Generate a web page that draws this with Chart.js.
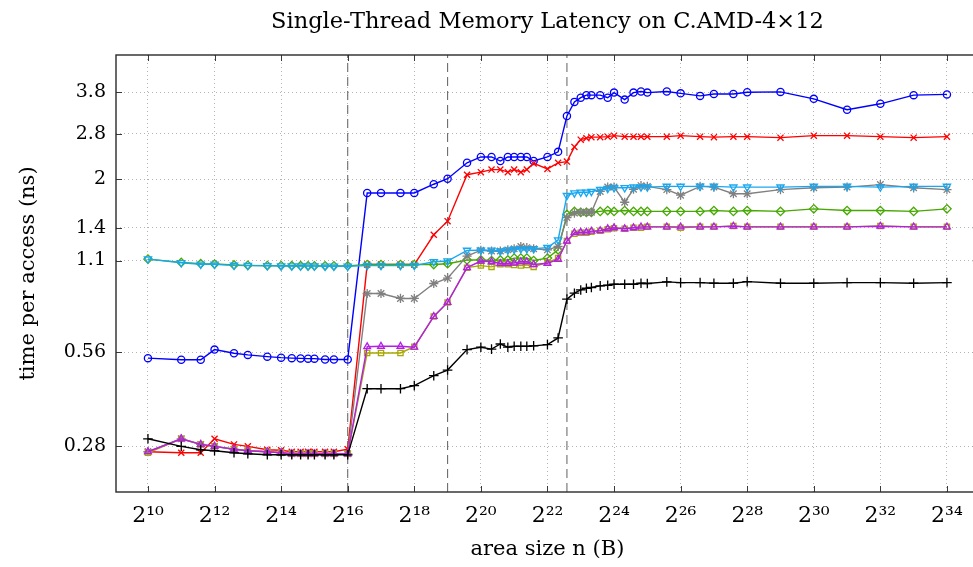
<!DOCTYPE html>
<html>
<head>
<meta charset="utf-8">
<script src="https://cdn.jsdelivr.net/npm/chart.js@4"></script>
<style>
html, body { margin: 0; padding: 0; overflow: hidden; background: #fff; }
#wrap { width: 985px; height: 567px; }
</style>
</head>
<body>
<div id="wrap"><canvas id="c" width="985" height="567"></canvas></div>
<script>
// x positions: log2 of the area size n (bytes)
const sizesLog2 = [10, 11, 11.585, 12, 12.585, 13, 13.585, 14, 14.32, 14.585, 14.81, 15, 15.32, 15.585, 16,
  16.585, 17, 17.585, 18, 18.585, 19, 19.585, 20,
  20.32, 20.585, 20.81, 21, 21.2, 21.38, 21.585,
  22, 22.32, 22.585,
  22.81, 23, 23.17, 23.32, 23.585, 23.81, 24,
  24.32, 24.585, 24.81, 25,
  25.585, 26, 26.585, 27, 27.585, 28,
  29, 30, 31, 32, 33, 34];

// time per access (ns) for each series
const blueCircle = [0.536, 0.530, 0.530, 0.571, 0.556, 0.549, 0.542, 0.538, 0.536, 0.535, 0.534, 0.534, 0.531, 0.531, 0.531,
  1.81, 1.81, 1.81, 1.81, 1.93, 2.01, 2.26, 2.36,
  2.36, 2.29, 2.36, 2.36, 2.36, 2.36, 2.29,
  2.36, 2.45, 3.19,
  3.54, 3.65, 3.72, 3.72, 3.72, 3.65, 3.79,
  3.60, 3.79, 3.82, 3.79,
  3.82, 3.77, 3.70, 3.75, 3.75, 3.80,
  3.81, 3.62, 3.34, 3.49, 3.72, 3.74];

const redCross = [0.269, 0.267, 0.267, 0.296, 0.284, 0.280, 0.273, 0.272, 0.269, 0.269, 0.269, 0.269, 0.269, 0.269, 0.274,
  1.068, 1.068, 1.068, 1.068, 1.33, 1.47, 2.07, 2.11,
  2.15, 2.15, 2.11, 2.15, 2.11, 2.15, 2.25,
  2.16, 2.26, 2.28,
  2.54, 2.68, 2.71, 2.73, 2.73, 2.74, 2.76,
  2.74, 2.74, 2.74, 2.74,
  2.74, 2.76, 2.74, 2.73, 2.74, 2.74,
  2.72, 2.76, 2.76, 2.74, 2.72, 2.74];

const cyanTriangleDown = [1.112, 1.082, 1.071, 1.070, 1.062, 1.060, 1.058, 1.057, 1.057, 1.056, 1.056, 1.056, 1.055, 1.055, 1.055,
  1.060, 1.060, 1.060, 1.060, 1.090, 1.096, 1.186, 1.187,
  1.187, 1.180, 1.190, 1.195, 1.200, 1.200, 1.200,
  1.21, 1.28, 1.775,
  1.81, 1.82, 1.82, 1.83, 1.855, 1.87, 1.88,
  1.88, 1.89, 1.89, 1.89,
  1.90, 1.90, 1.90, 1.90, 1.89, 1.89,
  1.89, 1.90, 1.90, 1.89, 1.90, 1.90];

const grayStar = [0.269, 0.296, 0.284, 0.280, 0.274, 0.271, 0.269, 0.267, 0.265, 0.265, 0.265, 0.265, 0.265, 0.265, 0.265,
  0.863, 0.863, 0.832, 0.832, 0.929, 0.966, 1.137, 1.187,
  1.18, 1.18, 1.19, 1.20, 1.22, 1.21, 1.20,
  1.19, 1.22, 1.51,
  1.56, 1.57, 1.57, 1.57, 1.83, 1.89, 1.89,
  1.69, 1.86, 1.91, 1.90,
  1.855, 1.78, 1.90, 1.89, 1.80, 1.80,
  1.855, 1.88, 1.89, 1.925, 1.88, 1.855];

const greenDiamond = [1.112, 1.085, 1.075, 1.072, 1.065, 1.062, 1.060, 1.060, 1.059, 1.059, 1.058, 1.058, 1.058, 1.058, 1.058,
  1.068, 1.068, 1.068, 1.068, 1.068, 1.075, 1.105, 1.105,
  1.10, 1.105, 1.105, 1.12, 1.12, 1.12, 1.10,
  1.12, 1.19, 1.545,
  1.58, 1.57, 1.57, 1.57, 1.58, 1.59, 1.58,
  1.59, 1.58, 1.58, 1.58,
  1.58, 1.58, 1.58, 1.59, 1.58, 1.59,
  1.58, 1.61, 1.59, 1.59, 1.58, 1.61];

const magentaTriangle = [0.269, 0.296, 0.284, 0.280, 0.274, 0.271, 0.269, 0.267, 0.265, 0.265, 0.265, 0.265, 0.265, 0.265, 0.265,
  0.583, 0.585, 0.585, 0.581, 0.729, 0.808, 1.044, 1.096,
  1.09, 1.076, 1.076, 1.08, 1.09, 1.09, 1.068,
  1.078, 1.11, 1.27,
  1.35, 1.355, 1.355, 1.366, 1.37, 1.39, 1.40,
  1.39, 1.40, 1.41, 1.41,
  1.41, 1.41, 1.41, 1.41, 1.417, 1.41,
  1.41, 1.41, 1.41, 1.417, 1.41, 1.41];

const oliveSquare = [0.267, 0.296, 0.284, 0.280, 0.274, 0.271, 0.269, 0.267, 0.265, 0.265, 0.265, 0.265, 0.265, 0.265, 0.265,
  0.557, 0.557, 0.557, 0.583, 0.729, 0.808, 1.044, 1.06,
  1.05, 1.07, 1.07, 1.065, 1.06, 1.065, 1.05,
  1.085, 1.12, 1.27,
  1.34, 1.35, 1.35, 1.36, 1.37, 1.385, 1.395,
  1.39, 1.40, 1.40, 1.41,
  1.41, 1.40, 1.41, 1.41, 1.42, 1.41,
  1.41, 1.41, 1.41, 1.42, 1.41, 1.41];

const blackPlus = [0.296, 0.280, 0.273, 0.271, 0.267, 0.265, 0.263, 0.263, 0.263, 0.263, 0.263, 0.263, 0.263, 0.263, 0.263,
  0.428, 0.428, 0.428, 0.438, 0.471, 0.491, 0.571, 0.581,
  0.573, 0.595, 0.581, 0.585, 0.585, 0.585, 0.587,
  0.592, 0.622, 0.828,
  0.865, 0.886, 0.897, 0.902, 0.913, 0.917, 0.924,
  0.924, 0.924, 0.931, 0.929,
  0.940, 0.935, 0.935, 0.931, 0.931, 0.942,
  0.931, 0.931, 0.935, 0.935, 0.931, 0.935];

// cache size boundaries (log2 bytes): L1, L2, L3
const cacheBoundaries = [16, 19, 22.585];

const xTickExponents = [10, 12, 14, 16, 18, 20, 22, 24, 26, 28, 30, 32, 34];
const yTickValues = [0.28, 0.56, 1.1, 1.4, 2, 2.8, 3.8];

const xRange = [9.04, 34.96];
const yRange = [0.2, 5];

const SERIF = "'DejaVu Serif', 'Liberation Serif', serif";
const sup = {'0':'\u2070','1':'\u00B9','2':'\u00B2','3':'\u00B3','4':'\u2074','5':'\u2075','6':'\u2076','7':'\u2077','8':'\u2078','9':'\u2079'};
const toSup = n => String(n).split('').map(ch => sup[ch] || ch).join('');

function series(values, color, style, radius, order, rotation) {
  return {
    data: sizesLog2.map((x, i) => ({x: x, y: values[i]})),
    borderColor: color,
    backgroundColor: 'rgba(255,255,255,0)',
    borderWidth: 1.4,
    pointStyle: style,
    pointRadius: radius,
    pointRotation: rotation || 0,
    pointBorderColor: color,
    pointBackgroundColor: 'rgba(255,255,255,0)',
    pointBorderWidth: 1.3,
    tension: 0,
    fill: false,
    order: order
  };
}

const datasets = [
  series(blackPlus, '#000000', 'cross', 4.8, 1),
  series(cyanTriangleDown, '#18a8f2', 'triangle', 4.2, 2, 180),
  series(magentaTriangle, '#b41ee6', 'triangle', 3.9, 3),
  series(oliveSquare, '#a8a800', 'rect', 3.7, 4),
  series(grayStar, '#808080', 'star', 4.6, 5),
  series(greenDiamond, '#46a800', 'rectRot', 4.2, 6),
  series(redCross, '#ff0000', 'crossRot', 4.3, 7),
  series(blueCircle, '#0000ff', 'circle', 3.6, 8)
];

cacheBoundaries.forEach(b => {
  datasets.push({
    data: [{x: b, y: yRange[0]}, {x: b, y: yRange[1]}],
    borderColor: '#6e6e6e',
    borderWidth: 1.1,
    borderDash: [9, 5],
    pointRadius: 0,
    fill: false,
    order: 20
  });
});

const framePlugin = {
  id: 'frame',
  afterDraw(chart) {
    const {ctx, chartArea: a, scales} = chart;
    const x = scales.x, y = scales.y;
    ctx.save();
    ctx.strokeStyle = '#3a3a3a';
    ctx.lineWidth = 1;
    ctx.beginPath();
    xTickExponents.forEach(v => {
      const px = Math.round(x.getPixelForValue(v)) + 0.5;
      ctx.moveTo(px, a.bottom); ctx.lineTo(px, a.bottom - 6);
      ctx.moveTo(px, a.top); ctx.lineTo(px, a.top + 6);
    });
    yTickValues.forEach(v => {
      const py = Math.round(y.getPixelForValue(v)) + 0.5;
      ctx.moveTo(a.left, py); ctx.lineTo(a.left + 6, py);
      ctx.moveTo(a.right, py); ctx.lineTo(a.right - 6, py);
    });
    ctx.stroke();
    ctx.strokeStyle = '#2a2a2a';
    ctx.lineWidth = 1.4;
    ctx.strokeRect(a.left, a.top, a.right - a.left, a.bottom - a.top);
    ctx.restore();
  }
};

new Chart(document.getElementById('c'), {
  type: 'line',
  data: {datasets: datasets},
  plugins: [framePlugin],
  options: {
    responsive: false,
    animation: false,
    devicePixelRatio: 1,
    layout: {padding: {left: 0, right: 5, top: 0, bottom: 0}},
    plugins: {
      legend: {display: false},
      tooltip: {enabled: false},
      title: {
        display: true,
        fullSize: false,
        text: 'Single-Thread Memory Latency on C.AMD-4\u00D712',
        color: '#000',
        font: {family: SERIF, size: 22.5, weight: 'normal', lineHeight: 1.2},
        padding: {top: 9, bottom: 19}
      }
    },
    scales: {
      x: {
        type: 'linear',
        min: xRange[0],
        max: xRange[1],
        afterBuildTicks: s => { s.ticks = xTickExponents.map(v => ({value: v})); },
        afterFit: s => { s.height = 75; },
        ticks: {
          autoSkip: false,
          maxRotation: 0,
          color: '#000',
          padding: 11,
          font: {family: SERIF, size: 22},
          callback: v => '2' + toSup(v)
        },
        grid: {color: '#b4b4b4', lineWidth: 1, drawTicks: false},
        border: {display: false, dash: [1, 3]},
        title: {
          display: true,
          text: 'area size n (B)',
          color: '#000',
          font: {family: SERIF, size: 21},
          padding: {top: 0, bottom: 5}
        }
      },
      y: {
        type: 'logarithmic',
        min: yRange[0],
        max: yRange[1],
        afterBuildTicks: s => { s.ticks = yTickValues.map(v => ({value: v})); },
        afterFit: s => { s.width = 116; },
        ticks: {
          autoSkip: false,
          color: '#000',
          padding: 10,
          font: {family: SERIF, size: 19},
          callback: v => String(v)
        },
        grid: {color: '#b4b4b4', lineWidth: 1, drawTicks: false},
        border: {display: false, dash: [1, 3]},
        title: {
          display: true,
          text: 'time per access (ns)',
          color: '#000',
          font: {family: SERIF, size: 21},
          padding: {top: 16, bottom: 0}
        }
      }
    }
  }
});
</script>
</body>
</html>
